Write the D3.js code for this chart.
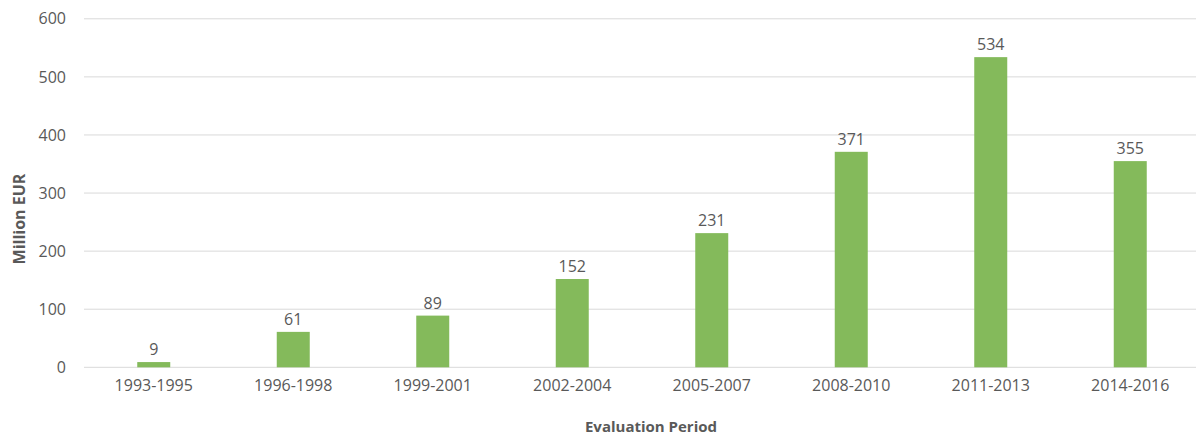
<!DOCTYPE html>
<html>
<head>
<meta charset="utf-8">
<script src="https://cdn.jsdelivr.net/npm/d3@7"></script>
<style>
  html, body { margin: 0; padding: 0; background: #fff; }
  svg { display: block; font-family: "Open Sans", "Noto Sans", sans-serif; }
</style>
</head>
<body>
<svg id="chart" width="1196" height="435"></svg>
<script>
// Funding per evaluation period, in million EUR
const periods = ["1993-1995", "1996-1998", "1999-2001", "2002-2004",
                 "2005-2007", "2008-2010", "2011-2013", "2014-2016"];
const amounts = [9, 61, 89, 152, 231, 371, 534, 355];
const yTicks = [0, 100, 200, 300, 400, 500, 600];

const svg = d3.select("#chart");
const W = 1196;

const x = d3.scaleBand().domain(periods).range([84, 1200]);
const y = d3.scaleLinear().domain([0, 600]).range([367.3, 18.8]);
const barW = 33;

const textColor = "#595959";
const gridColor = "#D9D9D9";
const barColor = "#84BA5B";
const labelSize = "16px";

// horizontal gridlines
svg.append("g")
  .selectAll("line")
  .data(yTicks)
  .join("line")
  .attr("x1", 84).attr("x2", W)
  .attr("y1", d => y(d)).attr("y2", d => y(d))
  .attr("stroke", gridColor).attr("stroke-width", 1);

// y axis labels
const yAxis = d3.axisLeft(y).tickValues(yTicks).tickSize(0).tickPadding(0);
const gy = svg.append("g").attr("transform", "translate(66,0)").call(yAxis);
gy.select(".domain").remove();
gy.selectAll("text")
  .attr("fill", textColor)
  .style("font-size", labelSize)
  .style("font-family", "'Open Sans', sans-serif");

// x axis labels
const xAxis = d3.axisBottom(x).tickSize(0).tickPadding(0);
const gx = svg.append("g").attr("transform", "translate(0,380)").call(xAxis);
gx.select(".domain").remove();
gx.selectAll("text")
  .attr("fill", textColor)
  .attr("dy", "0.71em")
  .style("font-size", labelSize)
  .style("font-family", "'Open Sans', sans-serif");

// bars
svg.append("g")
  .selectAll("rect")
  .data(periods)
  .join("rect")
  .attr("x", (d) => x(d) + x.bandwidth() / 2 - barW / 2)
  .attr("width", barW)
  .attr("y", (d, i) => y(amounts[i]))
  .attr("height", (d, i) => y(0) - y(amounts[i]))
  .attr("fill", barColor);

// value labels
svg.append("g")
  .selectAll("text")
  .data(periods)
  .join("text")
  .attr("x", d => x(d) + x.bandwidth() / 2)
  .attr("y", (d, i) => y(amounts[i]) - 7)
  .attr("text-anchor", "middle")
  .attr("fill", textColor)
  .style("font-size", labelSize)
  .text((d, i) => amounts[i]);

// axis titles
svg.append("text")
  .attr("transform", "translate(25,219) rotate(-90)")
  .attr("text-anchor", "middle")
  .attr("fill", textColor)
  .style("font-size", "16px")
  .style("font-weight", "bold")
  .text("Million EUR");

svg.append("text")
  .attr("x", 651).attr("y", 432)
  .attr("text-anchor", "middle")
  .attr("fill", textColor)
  .style("font-size", "15px")
  .style("font-weight", "bold")
  .text("Evaluation Period");
</script>
</body>
</html>
